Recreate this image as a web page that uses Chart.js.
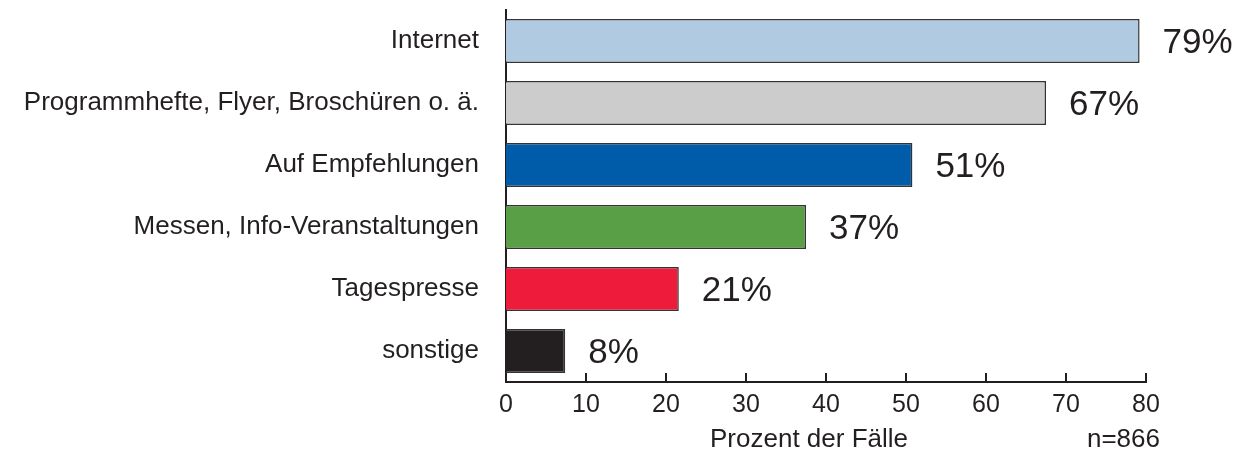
<!DOCTYPE html>
<html>
<head>
<meta charset="utf-8">
<script src="https://cdn.jsdelivr.net/npm/chart.js@4"></script>
<style>
  html, body { margin: 0; padding: 0; background: #ffffff; }
  #wrap { width: 1246px; height: 453px; position: relative; }
</style>
</head>
<body>
<div id="wrap"><canvas id="c" width="1246" height="453"></canvas></div>
<script>
const categories = [
  'Internet',
  'Programmhefte, Flyer, Broschüren o. ä.',
  'Auf Empfehlungen',
  'Messen, Info-Veranstaltungen',
  'Tagespresse',
  'sonstige'
];
const values = [79.2, 67.5, 50.8, 37.5, 21.6, 7.4];
const valueLabels = ['79%', '67%', '51%', '37%', '21%', '8%'];
const barColors = ['#b0cbe1', '#cccccc', '#005ba9', '#599f46', '#ee1b3a', '#231f20'];
const xTicks = [0, 10, 20, 30, 40, 50, 60, 70, 80];
const axisTitle = 'Prozent der Fälle';
const sampleNote = 'n=866';

const FONT = '"Liberation Sans", Arial, Helvetica, sans-serif';
const INK = '#231f20';

const overlay = {
  id: 'overlay',
  afterDatasetsDraw(chart) {
    const ctx = chart.ctx;
    const xs = chart.scales.x;
    const area = chart.chartArea;
    ctx.save();
    // inward tick marks on x axis
    ctx.strokeStyle = INK;
    ctx.lineWidth = 2;
    xTicks.forEach(v => {
      const px = Math.round(xs.getPixelForValue(v));
      ctx.beginPath();
      ctx.moveTo(px, area.bottom);
      ctx.lineTo(px, area.bottom - 9);
      ctx.stroke();
    });
    // value labels
    const meta = chart.getDatasetMeta(0);
    ctx.fillStyle = INK;
    ctx.font = '35px ' + FONT;
    ctx.textAlign = 'left';
    ctx.textBaseline = 'middle';
    meta.data.forEach((bar, i) => {
      ctx.fillText(valueLabels[i], bar.x + 23, bar.y + 2);
    });
    // axis title and sample size
    ctx.font = '26px ' + FONT;
    ctx.textBaseline = 'alphabetic';
    ctx.textAlign = 'center';
    ctx.fillText(axisTitle, 809, 447);
    ctx.textAlign = 'right';
    ctx.fillText(sampleNote, 1160, 447);
    ctx.restore();
  }
};

new Chart(document.getElementById('c'), {
  type: 'bar',
  data: {
    labels: categories,
    datasets: [{
      data: values,
      backgroundColor: barColors,
      borderColor: '#333333',
      borderWidth: 1.5,
      barPercentage: 0.71,
      categoryPercentage: 1.0
    }]
  },
  options: {
    indexAxis: 'y',
    responsive: false,
    animation: false,
    devicePixelRatio: 1,
    layout: { padding: { left: 0, right: 100, top: 10, bottom: 0 } },
    plugins: { legend: { display: false }, tooltip: { enabled: false } },
    scales: {
      x: {
        type: 'linear',
        min: 0,
        max: 80,
        afterFit(scale) { scale.height = 71; scale.paddingLeft = 0; scale.paddingRight = 0; },
        afterBuildTicks(scale) { scale.ticks = xTicks.map(v => ({ value: v })); },
        grid: { display: false, drawTicks: false },
        border: { display: true, color: INK, width: 2 },
        ticks: {
          color: INK,
          font: { family: FONT, size: 25 },
          padding: 8,
          maxRotation: 0,
          autoSkip: false
        }
      },
      y: {
        afterFit(scale) { scale.width = 506; scale.paddingTop = 0; scale.paddingBottom = 0; },
        grid: { display: false, drawTicks: false },
        border: { display: true, color: INK, width: 2 },
        ticks: {
          color: INK,
          font: { family: FONT, size: 26 },
          padding: 27,
          autoSkip: false
        }
      }
    }
  },
  plugins: [overlay]
});
</script>
</body>
</html>
